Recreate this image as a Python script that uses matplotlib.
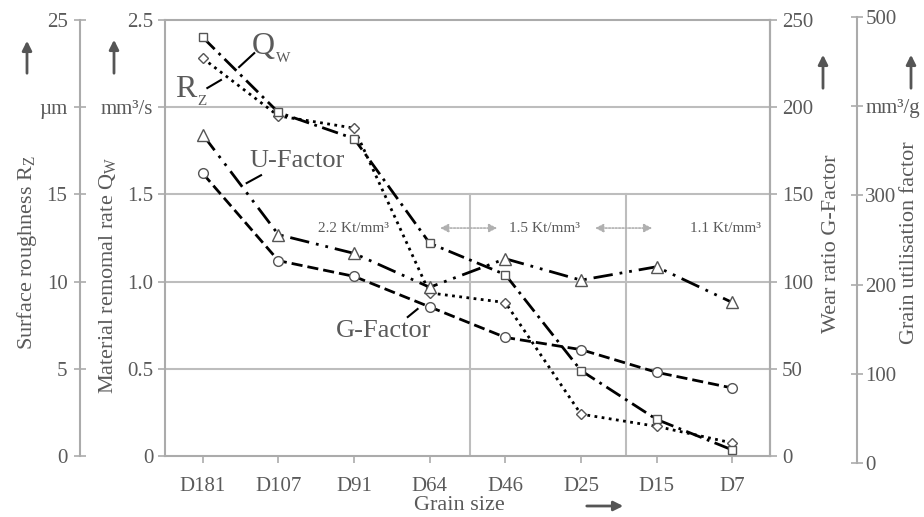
import matplotlib
matplotlib.use("Agg")
from matplotlib import pyplot as plt

# data
grain = ["D181", "D107", "D91", "D64", "D46", "D25", "D15", "D7"]
rz = [22.8, 19.5, 18.8, 9.35, 8.8, 2.4, 1.7, 0.75]          # um
qw = [2.40, 1.97, 1.82, 1.22, 1.04, 0.49, 0.21, 0.035]       # mm3/s
g_factor = [162, 112, 103, 85.5, 68, 61, 48, 39]             # -
u_factor = [368, 256, 235, 197, 229, 205, 220, 180]          # mm3/g

rz_ticks = [0, 5, 10, 15, 20, 25]
rz_labels = ["0", "5", "10", "15", "µm", "25"]
qw_ticks = [0, 0.5, 1.0, 1.5, 2.0, 2.5]
qw_labels = ["0", "0.5", "1.0", "1.5", "mm³/s", "2.5"]
g_ticks = [0, 50, 100, 150, 200, 250]
u_ticks = [0, 100, 200, 300, 400, 500]
u_labels = ["0", "100", "200", "300", "mm³/g", "500"]

plt.rcParams["font.family"] = ["Liberation Serif", "DejaVu Serif"]
plt.rcParams["mathtext.fontset"] = "custom"
plt.rcParams["mathtext.rm"] = "Liberation Serif"
plt.rcParams["mathtext.it"] = "Liberation Serif"

TXT = "#5a5a5a"
AX = "#ababab"
MK = "#555555"
TS = 15

W, H = 924, 517
fig = plt.figure(figsize=(W / 100, H / 100), dpi=100)

def fx(px):
    return px / W

def fy(py):
    return 1 - py / H

x = list(range(len(grain)))
ax = fig.add_axes([fx(165), fy(456), fx(770) - fx(165), fy(20) - fy(456)])
ax.set_xlim(-0.5, 7.5)
ax.set_ylim(0, 2.5)

for s in ax.spines.values():
    s.set_color(AX)
    s.set_linewidth(1.5)
ax.set_yticks(qw_ticks)
ax.set_yticklabels(qw_labels)
ax.set_xticks(x)
ax.set_xticklabels(grain)
ax.tick_params(colors=AX, labelcolor=TXT, labelsize=TS, width=1.2, length=5)
ax.tick_params(axis="x", pad=10)
for yv in [0.5, 1.0, 1.5, 2.0]:
    ax.axhline(yv, color="#bdbdbd", lw=1.5, zorder=0)
for xv in [3.53, 5.6]:
    ax.axvline(xv, ymin=0, ymax=0.6, color="#bdbdbd", lw=1.5, zorder=0)

mk = dict(markerfacecolor="white", markeredgecolor=MK, markeredgewidth=1.0,
          color="black", lw=2.0, zorder=5)

# Rz axis (far left)
ax_rz = ax.twinx()
ax_rz.set_ylim(0, 25)
ax_rz.yaxis.set_ticks_position("left")
ax_rz.spines["left"].set_position(("axes", (80 - 165) / 605))
for k in ["top", "right", "bottom"]:
    ax_rz.spines[k].set_visible(False)
ax_rz.spines["left"].set_color(AX)
ax_rz.spines["left"].set_linewidth(1.5)
ax_rz.set_yticks(rz_ticks)
ax_rz.set_yticklabels(rz_labels)
ax_rz.tick_params(colors=AX, labelcolor=TXT, labelsize=TS, width=1.2,
                  length=8, direction="inout", pad=5)
ax_rz.plot(x, rz, linestyle=(0, (1, 1.6)), marker="D", markersize=5.5, **mk)

# G-Factor axis (right)
ax_g = ax.twinx()
ax_g.set_ylim(0, 250)
for k in ["top", "left", "bottom"]:
    ax_g.spines[k].set_visible(False)
ax_g.spines["right"].set_color(AX)
ax_g.spines["right"].set_linewidth(1.5)
ax_g.set_yticks(g_ticks)
ax_g.tick_params(colors=AX, labelcolor=TXT, labelsize=TS, width=1.2, length=5)
ax_g.plot(x, g_factor, linestyle=(0, (4, 1.8)), marker="o", markersize=7, **mk)

# U-Factor axis (far right), slightly different vertical span
ax_u = fig.add_axes([fx(165), fy(463), fx(770) - fx(165), fy(17) - fy(463)])
ax_u.patch.set_visible(False)
ax_u.set_xlim(-0.5, 7.5)
ax_u.set_ylim(0, 500)
ax_u.set_xticks([])
for k in ["top", "left", "bottom"]:
    ax_u.spines[k].set_visible(False)
ax_u.yaxis.set_ticks_position("right")
ax_u.spines["right"].set_position(("axes", (857 - 165) / 605))
ax_u.spines["right"].set_color(AX)
ax_u.spines["right"].set_linewidth(1.5)
ax_u.set_yticks(u_ticks)
ax_u.set_yticklabels(u_labels)
ax_u.tick_params(colors=AX, labelcolor=TXT, labelsize=TS, width=1.2,
                 length=8, direction="inout", pad=2)
ax_u.plot(x, u_factor, linestyle=(0, (7, 2.5, 1, 2.5, 1, 2.5)), marker="^",
          markersize=8, **mk)

# Qw on main axes, drawn on top
ax_q = ax.twinx()
ax_q.set_ylim(0, 2.5)
ax_q.axis("off")
ax_q.plot(x, qw, linestyle=(0, (6, 2, 1, 2)), marker="s", markersize=6, **mk)

# annotations (big letter + small subscript)
ax_q.text(0.65, 2.35, "Q", fontsize=23, color=TXT, ha="left", va="center")
ax_q.text(0.97, 2.28, "W", fontsize=11, color=TXT, ha="left", va="center")
ax_q.plot([0.48, 0.68], [2.23, 2.31], color="black", lw=1.5)
ax_q.text(-0.37, 2.10, "R", fontsize=23, color=TXT, ha="left", va="center")
ax_q.text(-0.07, 2.03, "Z", fontsize=11, color=TXT, ha="left", va="center")
ax_q.plot([0.06, 0.24], [2.11, 2.156], color="black", lw=1.5)
ax_q.text(1.25, 1.69, "U-Factor", fontsize=19, color=TXT, ha="center", va="center")
ax_q.plot([0.58, 0.77], [1.565, 1.61], color="black", lw=1.5)
ax_q.text(2.39, 0.717, "G-Factor", fontsize=19, color=TXT, ha="center", va="center")
ax_q.plot([2.71, 2.84], [0.797, 0.843], color="black", lw=1.5)

for xt, lab in [(1.99, "2.2 Kt/mm³"), (4.52, "1.5 Kt/mm³"), (6.91, "1.1 Kt/mm³")]:
    ax_q.text(xt, 1.307, lab, fontsize=11, color=TXT, ha="center", va="center")
for x0, x1 in [(3.10, 3.93), (5.15, 5.98)]:
    ax_q.annotate("", xy=(x0, 1.307), xytext=(x1, 1.307),
                  arrowprops=dict(arrowstyle="<|-|>", color="#b0b0b0", lw=1.2,
                                  linestyle=(0, (1, 1)), mutation_scale=12))

# axis titles
fig.text(fx(27), fy(253), r"Surface roughness R$_\mathrm{Z}$", rotation=90,
         fontsize=16, color=TXT, ha="center", va="center")
fig.text(fx(108), fy(275), r"Material remomal rate Q$_\mathrm{W}$", rotation=90,
         fontsize=16, color=TXT, ha="center", va="center")
fig.text(fx(831), fy(244), "Wear ratio G-Factor", rotation=90,
         fontsize=16, color=TXT, ha="center", va="center")
fig.text(fx(910), fy(243), "Grain utilisation factor", rotation=90,
         fontsize=16, color=TXT, ha="center", va="center")
fig.text(fx(459), fy(506), "Grain size", fontsize=16, color=TXT,
         ha="center", va="center")

# unit arrows
arr = dict(arrowstyle="-|>", color="#555555", lw=2, mutation_scale=14)
for px, y0, y1 in [(27, 76, 38), (114, 76, 37), (823, 91, 52), (911, 91, 52)]:
    fig.add_artist(matplotlib.patches.FancyArrowPatch(
        (fx(px), fy(y0)), (fx(px), fy(y1)), transform=fig.transFigure, **arr))
fig.add_artist(matplotlib.patches.FancyArrowPatch(
    (fx(584), fy(506)), (fx(626), fy(506)), transform=fig.transFigure, **arr))

fig.savefig("out.png", dpi=100)
